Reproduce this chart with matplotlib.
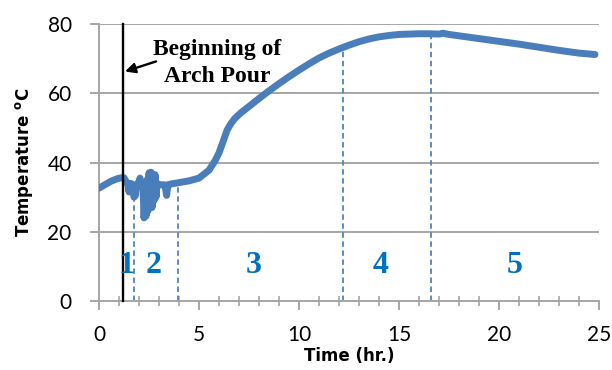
import matplotlib
matplotlib.use("Agg")
import matplotlib.pyplot as plt
from matplotlib.ticker import MultipleLocator

# ---- data ----
time_hr = [0, 0.3, 0.6, 0.9, 1.1, 1.25, 1.35, 1.45, 1.5, 1.55, 1.65, 1.75, 1.82, 1.88,
           2.0, 2.05, 2.1, 2.2, 2.25, 2.3, 2.35, 2.4, 2.45, 2.5, 2.55, 2.6, 2.65,
           2.7, 2.75, 2.8, 2.85, 2.9, 3.0, 3.2, 3.3, 3.38, 3.45, 3.6, 3.8, 4.0,
           4.5, 5.0, 5.5, 5.8, 6.0, 6.2, 6.4, 6.6, 6.8, 7.1, 7.5, 8.0, 8.5, 9.0,
           9.5, 10.0, 10.5, 11.0, 11.5, 12.0, 12.5, 13.0, 13.5, 14.0, 14.5, 15.0,
           15.5, 16.0, 16.5, 17.0, 17.2, 17.5, 18.0, 18.5, 19.0, 19.5, 20.0, 21.0,
           22.0, 23.0, 24.0, 24.8]
temp_c = [32.6, 33.6, 34.6, 35.3, 35.6, 35.6, 34.5, 33.5, 31.5, 34.0, 33.8, 30.0, 30.5, 33.5,
          34.5, 35.5, 34.0, 33.0, 24.0, 30.0, 24.5, 35.0, 26.0, 37.0, 28.0, 37.2, 27.0,
          36.5, 29.0, 36.5, 30.0, 34.0, 33.5, 33.6, 33.5, 30.5, 33.6, 33.8, 34.0, 34.2,
          34.7, 35.5, 37.8, 40.5, 42.8, 46.0, 49.3, 51.3, 52.8, 54.4, 56.2, 58.5, 60.7, 62.8,
          64.8, 66.7, 68.5, 70.2, 71.6, 72.8, 73.9, 74.9, 75.7, 76.3, 76.7, 77.0,
          77.1, 77.2, 77.2, 77.1, 77.35, 77.0, 76.6, 76.2, 75.8, 75.4, 75.0, 74.2,
          73.3, 72.4, 71.6, 71.2]

pour_start = 1.22
phase_bounds = [1.75, 3.93, 12.2, 16.6]
phase_tops = [33.0, 34.0, 73.3, 77.2]
phase_labels = ["1", "2", "3", "4", "5"]
phase_label_x = [1.38, 2.72, 7.72, 14.07, 20.78]
phase_label_y = 8.0

x_ticks = [0, 5, 10, 15, 20, 25]
y_ticks = [0, 20, 40, 60, 80]

# ---- figure ----
fig = plt.figure(figsize=(6.12, 3.70), dpi=100)
ax = fig.add_axes([0.1618, 0.1865, 0.8170, 0.7485])

grid_c = "#a6a6a6"
ax.set_xlim(0, 25)
ax.set_ylim(0, 80)
ax.set_xticks(x_ticks)
ax.set_yticks(y_ticks)
ax.xaxis.set_minor_locator(MultipleLocator(1))
for yv in y_ticks[1:]:
    ax.axhline(yv, color=grid_c, lw=1.4, zorder=0)

for s in ["top", "right"]:
    ax.spines[s].set_visible(False)
for s in ["left", "bottom"]:
    ax.spines[s].set_color(grid_c)
    ax.spines[s].set_linewidth(1.4)

ax.tick_params(axis="y", which="major", direction="out", length=6.2, width=1.4,
               color=grid_c, pad=13.5, labelsize=15)
ax.tick_params(axis="x", which="major", direction="out", length=6.5, width=1.4,
               color=grid_c, pad=11, labelsize=15)
ax.tick_params(axis="x", which="minor", direction="inout", length=7, width=1.2,
               color=grid_c)
for lab in ax.get_xticklabels() + ax.get_yticklabels():
    lab.set_fontfamily("Lato")

# phase boundaries
for xb, top in zip(phase_bounds, phase_tops):
    ax.plot([xb, xb], [0, top], color="#4f81bd", lw=1.3, dashes=(3, 2), zorder=2)

# temperature curve
ax.plot(time_hr, temp_c, color="#4a7ebb", lw=5, solid_capstyle="round",
        solid_joinstyle="round", zorder=3)

# pour start line
ax.plot([pour_start, pour_start], [0, 80], color="black", lw=1.7, zorder=4,
        clip_on=False)

# annotation
serif_b = dict(family="Liberation Serif", weight="bold", size=17)
ax.text(5.9, 71.0, "Beginning of", ha="center", va="baseline", **serif_b)
ax.text(5.9, 63.2, "Arch Pour", ha="center", va="baseline", **serif_b)
ax.annotate("", xy=(pour_start + 0.08, 66.3), xytext=(2.85, 69.2),
            arrowprops=dict(arrowstyle="-|>,head_length=0.6,head_width=0.3",
                            color="black", lw=1.7, shrinkA=0, shrinkB=0))

for lab, xl in zip(phase_labels, phase_label_x):
    ax.text(xl, phase_label_y, lab, ha="center", va="baseline",
            family="Liberation Serif", weight="bold", size=23, color="#0070c0",
            zorder=5)

ax.set_xlabel("Time (hr.)", family="DejaVu Sans", weight="bold", size=12,
              labelpad=1)
ax.set_ylabel(r"Temperature $^{\mathbf{o}}$C", family="DejaVu Sans",
              weight="bold", size=12, labelpad=9)

fig.savefig("out.png", dpi=100)
